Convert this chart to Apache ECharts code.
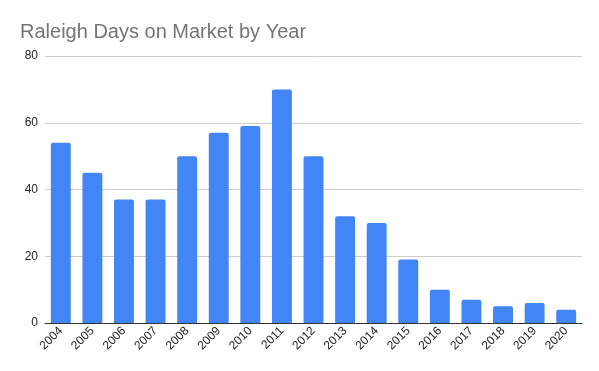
<!DOCTYPE html>
<html>
<head>
<meta charset="utf-8">
<script src="https://cdn.jsdelivr.net/npm/echarts@6/dist/echarts.min.js"></script>
<style>html,body{margin:0;padding:0;background:#fff}#c{width:599px;height:371px}</style>
</head>
<body>
<div id="c"></div>
<script>
var years = ['2004','2005','2006','2007','2008','2009','2010','2011','2012','2013','2014','2015','2016','2017','2018','2019','2020'];
var daysOnMarket = [54,45,37,37,50,57,59,70,50,32,30,19,10,7,5,6,4];
var titleText = 'Raleigh Days on Market by Year';

var chart = echarts.init(document.getElementById('c'), null, {renderer:'canvas'});
chart.setOption({
  animation: false,
  title: {
    text: titleText,
    left: 15, top: 17,
    textStyle: {fontFamily: 'Liberation Sans, Arial, sans-serif', fontSize: 20, fontWeight: 'normal', color: '#757575'}
  },
  grid: {left: 45, right: 17, top: 56, bottom: 48, containLabel: false},
  xAxis: {
    type: 'category',
    data: years,
    axisLine: {lineStyle: {color: '#333333', width: 1}},
    axisTick: {show: false},
    axisLabel: {rotate: 45, fontSize: 12, color: '#222222', fontFamily: 'Liberation Sans, Arial, sans-serif', margin: 6}
  },
  yAxis: {
    type: 'value',
    min: 0, max: 80, interval: 20,
    axisLine: {show: false},
    axisTick: {show: false},
    splitLine: {lineStyle: {color: '#cccccc', width: 1}},
    axisLabel: {fontSize: 12, color: '#222222', fontFamily: 'Liberation Sans, Arial, sans-serif', margin: 7}
  },
  series: [{
    type: 'bar',
    data: daysOnMarket,
    barWidth: '63%',
    itemStyle: {color: '#4285F4', borderRadius: [2,2,0,0]}
  }]
});
</script>
</body>
</html>
